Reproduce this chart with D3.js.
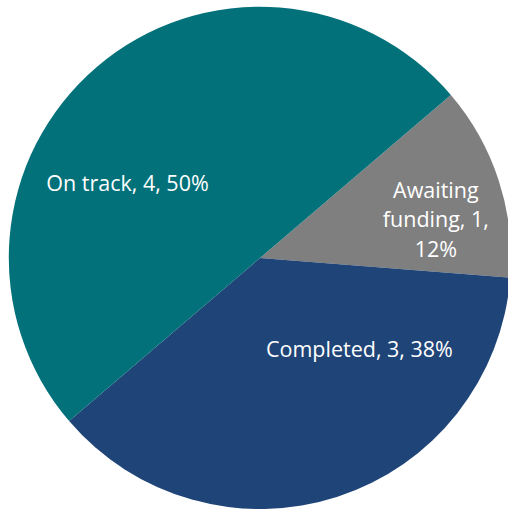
<!DOCTYPE html>
<html><head><meta charset="utf-8">
<script src="https://cdn.jsdelivr.net/npm/d3@7"></script>
<style>html,body{margin:0;padding:0;background:#fff;overflow:hidden}</style>
</head><body>
<svg id="c" width="508" height="509"></svg>
<script>
const categories = ["Awaiting funding", "Completed", "On track"];
const values = [1, 3, 4];
const percents = ["12%", "38%", "50%"];
const colors = ["#7F7F7F", "#1F4477", "#02717A"];
// label lines as Excel wrapped them
const labelLines = [["Awaiting", "funding, 1,", "12%"], ["Completed, 3, 38%"], ["On track, 4, 50%"]];

const svg = d3.select("#c");
const cx = 260, cy = 258, r = 251;
const start = 49.5 * Math.PI / 180;
const pie = d3.pie().sort(null).startAngle(start).endAngle(start + 2 * Math.PI);
const arcs = pie(values);
const arc = d3.arc().innerRadius(0).outerRadius(r);
const g = svg.append("g").attr("transform", `translate(${cx},${cy})`);
g.selectAll("path").data(arcs).join("path")
  .attr("d", arc).attr("fill", (d, i) => colors[i]);

// Excel "best fit" label placement: angular shift (deg) from slice middle and radius fraction
const labelShift = [5.7, -29.4, -20.1];
const labelRad = [0.717, 0.538, 0.606];
const fs = 21.5, lh = 29.5;
arcs.forEach((d, i) => {
  const a = (d.startAngle + d.endAngle) / 2 + labelShift[i] * Math.PI / 180;
  const rr = r * labelRad[i];
  const x = Math.sin(a) * rr, y = -Math.cos(a) * rr;
  const lines = labelLines[i];
  const t = g.append("text").attr("text-anchor", "middle")
    .attr("font-family", "'Open Sans', sans-serif").attr("font-size", fs)
    .attr("fill", "#fff");
  lines.forEach((s, j) => {
    t.append("tspan").attr("x", x)
      .attr("y", y + (j - (lines.length - 1) / 2) * lh + fs * 0.35).text(s);
  });
});
</script>
</body></html>
